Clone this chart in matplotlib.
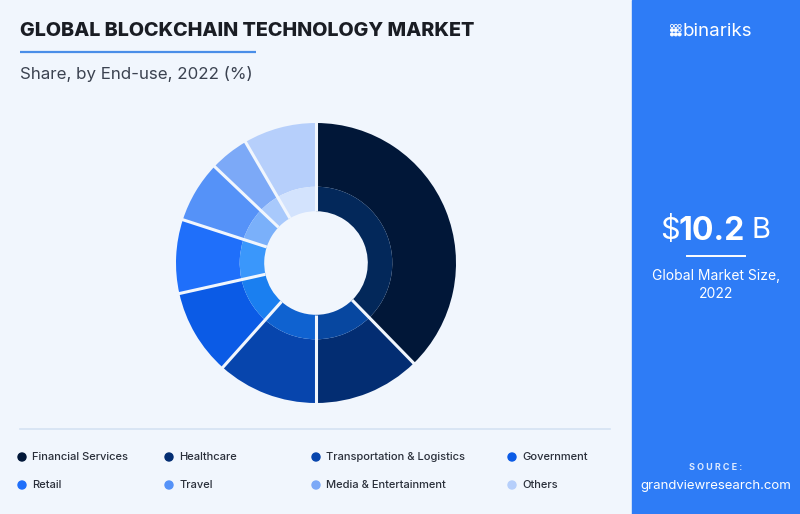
import numpy as np
import matplotlib
matplotlib.use("Agg")
import matplotlib.pyplot as plt
from matplotlib.patches import Circle, Rectangle

plt.rcParams['font.family'] = ['Inter', 'DejaVu Sans']

# data
segments = ["Financial Services", "Healthcare", "Transportation & Logistics", "Government",
            "Retail", "Travel", "Media & Entertainment", "Others"]
shares = [37.7, 12.3, 11.6, 9.9, 8.5, 7.1, 4.5, 8.4]
outer_colors = ["#011738", "#032d72", "#0745ad", "#0b5be6",
                "#1f6ffa", "#5592f8", "#7ca9f7", "#b6cffb"]
inner_colors = ["#03285a", "#0747a0", "#0f62d0", "#1a7ff0",
                "#3a97fb", "#7ab0fa", "#a8c9fc", "#d3e3fd"]

BG = "#f1f6fd"
PANEL = "#2e7cf6"

W, H = 800, 514
fig = plt.figure(figsize=(W / 100, H / 100), dpi=100, facecolor=BG)

# full-figure overlay in pixel coordinates for the decorations
deco = fig.add_axes([0, 0, 1, 1])
deco.set_xlim(0, W)
deco.set_ylim(H, 0)
deco.axis('off')

# right panel
deco.add_patch(Rectangle((632, 0), W - 632, H, color=PANEL, zorder=0))

deco.text(20, 31, "GLOBAL BLOCKCHAIN TECHNOLOGY MARKET", fontsize=14.2, fontweight='heavy',
          color="#1a1d24", va='center', ha='left')
deco.plot([20, 256], [52, 52], color="#4a8ee8", lw=1.6, solid_capstyle='butt')
deco.text(20, 74, "Share, by End-use, 2022 (%)", fontsize=12.2, color="#3b4250",
          va='center', ha='left')

# separator above legend
deco.plot([20, 610], [429, 429], color="#d5e2f3", lw=1.2)

# legend
leg_x = [22, 169, 316, 512]
leg_y = [457, 485]
for i, (name, col) in enumerate(zip(segments, outer_colors)):
    x = leg_x[i % 4]
    y = leg_y[i // 4]
    deco.add_patch(Circle((x, y), 4, color=col, zorder=3))
    deco.text(x + 10, y, name, fontsize=8, fontweight='medium', color="#2a2f3a",
              va='center', ha='left')

# logo
for r in range(3):
    for c in range(3):
        hollow = (r == 0) or (r == 1 and c == 2)
        deco.add_patch(Circle((672 + c * 3.8, 26 + r * 4.2), 1.6,
                              facecolor='none' if hollow else 'white',
                              edgecolor='white', lw=0.6, zorder=3))
deco.text(682, 32, "binariks", fontsize=13.5, color='white', va='center', ha='left')

# market size
deco.text(660, 231, "$", fontsize=22, color='white', va='center', ha='left')
deco.text(679, 231, "10.2", fontsize=23, fontweight='bold', color='white', va='center', ha='left')
deco.text(752, 231, "B", fontsize=21, color='white', va='center', ha='left')
deco.plot([687, 745], [256, 256], color='white', lw=1.4)
deco.text(716, 276, "Global Market Size,", fontsize=10, color='white', va='center', ha='center')
deco.text(716, 294, "2022", fontsize=10, color='white', va='center', ha='center')

deco.text(716, 468, "S O U R C E :", fontsize=6.5, fontweight='bold', color='#dce9ff',
          va='center', ha='center')
deco.text(716, 486, "grandviewresearch.com", fontsize=9.5, color='white', va='center', ha='center')

# donut
cx, cy, R = 316, 263, 140
half = 150
ax = fig.add_axes([(cx - half) / W, (H - cy - half) / H, 2 * half / W, 2 * half / H])
ax.set_aspect('equal')
ax.axis('off')

r_mid, r_hole = 0.545, 0.37
ax.pie(shares, colors=outer_colors, radius=1.0, startangle=90, counterclock=False,
       wedgeprops=dict(width=1.0 - r_mid, linewidth=0))
ax.pie(shares, colors=inner_colors, radius=r_mid, startangle=90, counterclock=False,
       wedgeprops=dict(width=r_mid - r_hole, linewidth=0))
ax.set_xlim(-half / R, half / R)
ax.set_ylim(-half / R, half / R)

# separators between slices
bounds = np.cumsum([0] + shares) / sum(shares) * 360.0
for b in bounds[:-1]:
    th = np.deg2rad(90 - b)
    ax.plot([r_hole * np.cos(th), 1.01 * np.cos(th)], [r_hole * np.sin(th), 1.01 * np.sin(th)],
            color=BG, lw=2.2, solid_capstyle='butt', zorder=5)

fig.savefig("out.png", dpi=100, facecolor=BG)
